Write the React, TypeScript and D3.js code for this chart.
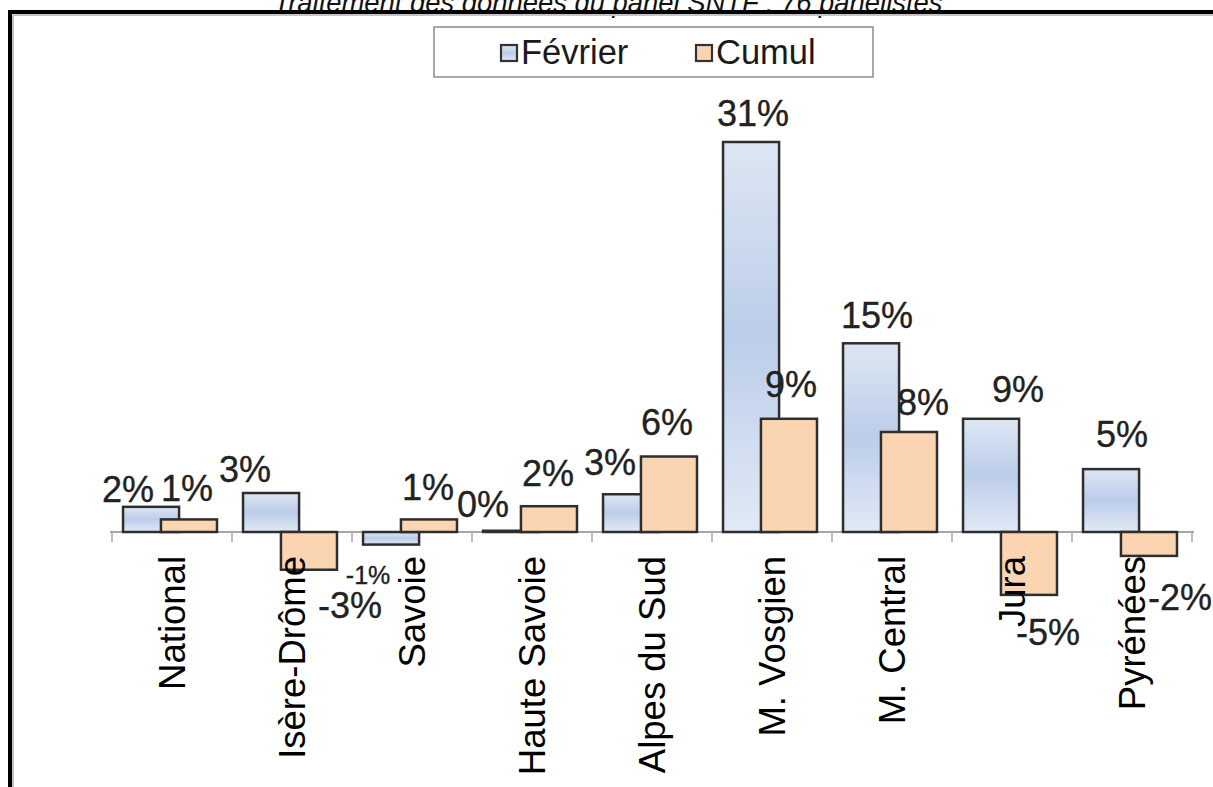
import React from "react";
import * as d3 from "d3";

const categories = [
  "National",
  "Isère-Drôme",
  "Savoie",
  "Haute Savoie",
  "Alpes du Sud",
  "M. Vosgien",
  "M. Central",
  "Jura",
  "Pyrénées",
];
const fevrier = [2.0, 3.1, -1.0, 0.1, 3.0, 31.0, 15.0, 9.0, 5.0];
const cumul = [1.0, -3.0, 1.0, 2.05, 6.0, 9.0, 7.95, -5.0, -1.9];
const seriesNames = ["Février", "Cumul"];
const title = "Traitement des données du panel SNTF : 76 panélistes";

// manual label nudges (dx, dy) as in the original chart
const fevNudge: [number, number][] = [
  [-23, 12], [-26, 6], [-23, -3], [-28, 3], [-21, -2], [2, 1], [6, 2], [27, 0], [11, -5],
];
const cumNudge: [number, number][] = [
  [-2, -1], [41, 6], [-1, -2], [-1, -3], [-2, -5], [2, -5], [14, 0], [19, 8], [31, 12],
];

const W = 1213;
const H = 787;
const FONT = "'Liberation Sans', Arial, Helvetica, sans-serif";

export default function App() {
  const x = d3.scaleBand<string>().domain(categories).range([112, 1192]);
  const y = d3.scaleLinear().domain([0, 31]).range([532, 142]);
  const bw = x.bandwidth();
  const barW = bw * 0.467;
  const fevOff = bw * 0.092;
  const cumOff = bw * 0.408;
  const fmt = (v: number) => `${Math.round(v)}%`;

  const bars = (vals: number[], off: number, fill: string) =>
    vals.map((v, i) => {
      const x0 = (x(categories[i]) as number) + off;
      const y0 = y(Math.max(v, 0));
      const h = Math.abs(y(v) - y(0));
      return (
        <rect
          key={i}
          x={x0}
          y={y0}
          width={barW}
          height={h}
          fill={fill}
          stroke="#2e2e2e"
          strokeWidth={2.5}
        />
      );
    });

  const labels = (vals: number[], off: number, nudge: [number, number][]) =>
    vals.map((v, i) => {
      const cx = (x(categories[i]) as number) + off + barW / 2;
      const small = v < 0 && Math.round(v) === -1;
      const by = v >= 0 ? y(v) - 17 : y(v) + 42;
      return (
        <text
          key={i}
          x={cx + nudge[i][0]}
          y={by + nudge[i][1]}
          textAnchor="middle"
          fontSize={small ? 25 : 36}
          fill="#222"
          stroke="#222"
          strokeWidth={0.35}
        >
          {fmt(v)}
        </text>
      );
    });

  const ticks = d3.range(categories.length + 1).map((i) => 112 + i * bw);

  return (
    <div style={{ position: "absolute", left: 0, top: 0, width: W, height: H, background: "#fff" }}>
      <svg width={W} height={H} style={{ display: "block", fontFamily: FONT }}>
        <defs>
          <linearGradient id="fevGrad" x1="0" y1="0" x2="0" y2="1">
            <stop offset="0%" stopColor="#dde6f3" />
            <stop offset="50%" stopColor="#bccdea" />
            <stop offset="100%" stopColor="#e1e9f5" />
          </linearGradient>
        </defs>
        <rect x={0} y={0} width={W} height={H} fill="#fff" />

        {/* title (partially cut off at top, as in the original) */}
        <text
          x={608}
          y={12}
          textAnchor="middle"
          fontSize={27.4}
          fontStyle="italic"
          fill="#111"
        >
          {title}
        </text>

        {/* frame */}
        <line x1={13} y1={15} x2={W} y2={15} stroke="#c4c4c4" strokeWidth={2} />
        <line x1={13} y1={15} x2={13} y2={H} stroke="#c4c4c4" strokeWidth={2} />
        <line x1={8} y1={12} x2={W} y2={12} stroke="#000" strokeWidth={4} />
        <line x1={10} y1={10} x2={10} y2={H} stroke="#000" strokeWidth={4} />

        {/* legend */}
        <rect x={434} y={27} width={439} height={50} fill="#fff" stroke="#8c8c8c" strokeWidth={1.5} />
        <rect x={501} y={45} width={16} height={16} fill="url(#fevGrad)" stroke="#333" strokeWidth={2.2} />
        <text x={521} y={64} fontSize={34.5} fill="#1a1a1a">{seriesNames[0]}</text>
        <rect x={696} y={45} width={16} height={16} fill="#fbd4b2" stroke="#333" strokeWidth={2.2} />
        <text x={716} y={64} fontSize={34.5} fill="#1a1a1a">{seriesNames[1]}</text>

        {/* axis */}
        <line x1={110} y1={y(0)} x2={1194} y2={y(0)} stroke="#a6a6a6" strokeWidth={2} />
        {ticks.map((t, i) => (
          <line key={i} x1={t} y1={y(0)} x2={t} y2={y(0) + 10} stroke="#a6a6a6" strokeWidth={1.5} />
        ))}

        {/* bars */}
        <g>{bars(fevrier, fevOff, "url(#fevGrad)")}</g>
        <g>{bars(cumul, cumOff, "#fbd4b2")}</g>

        {/* category labels */}
        {categories.map((c, i) => {
          const cx = (x(c) as number) + bw / 2 + 13;
          return (
            <text
              key={c}
              transform={`translate(${cx},556) rotate(-90)`}
              textAnchor="end"
              fontSize={36.5}
              fill="#000"
            >
              {c}
            </text>
          );
        })}

        {/* value labels */}
        <g>{labels(fevrier, fevOff, fevNudge)}</g>
        <g>{labels(cumul, cumOff, cumNudge)}</g>
      </svg>
    </div>
  );
}
